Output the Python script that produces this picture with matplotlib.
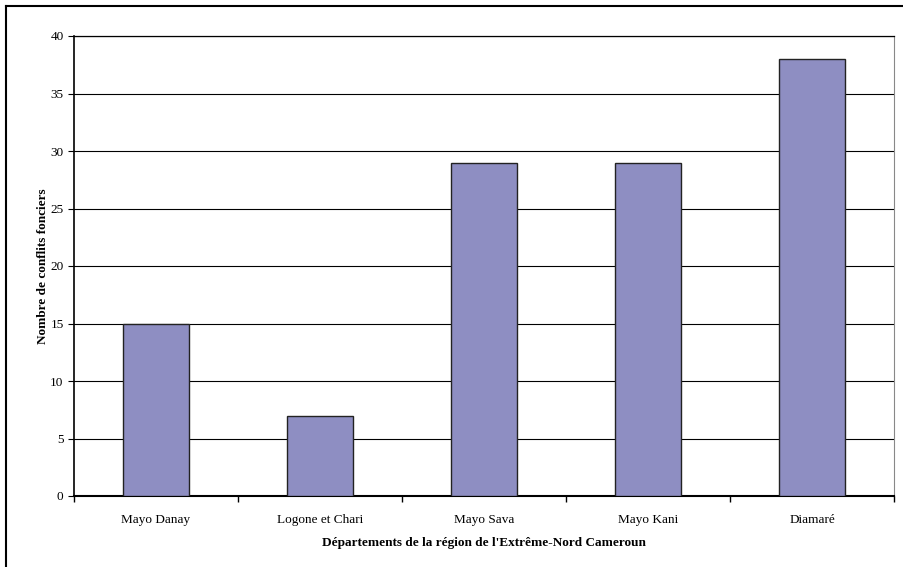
import matplotlib.pyplot as plt
from matplotlib.lines import Line2D
import numpy as np

departements = ["Mayo Danay", "Logone et Chari", "Mayo Sava", "Mayo Kani", "Diamaré"]
conflits = [15, 7, 29, 29, 38]
y_ticks = [0, 5, 10, 15, 20, 25, 30, 35, 40]

plt.rcParams["font.family"] = ["Liberation Serif", "DejaVu Serif"]

fig = plt.figure(figsize=(9.04, 5.67), dpi=100)
ax = fig.add_axes([74 / 904, 71 / 567, 820 / 904, 460 / 567])

x = np.arange(len(departements))
ax.bar(x, conflits, width=0.4, color="#8e8ec2", edgecolor="#222222", linewidth=1.0, zorder=3)

ax.set_xlim(-0.5, len(departements) - 0.5)
ax.set_ylim(0, 40)
ax.set_yticks(y_ticks)
ax.yaxis.grid(True, color="black", linewidth=0.8, zorder=0)

# categories centred, ticks on boundaries
ax.set_xticks(x)
ax.set_xticklabels(departements, fontsize=9.5)
ax.set_xticks(np.arange(-0.5, len(departements)), minor=True)
ax.tick_params(axis="x", which="major", length=0, pad=13)
ax.tick_params(axis="x", which="minor", length=4, direction="out", width=1)
ax.tick_params(axis="y", length=4, direction="out", labelsize=9.5, width=0.8)

ax.spines["top"].set_color("black")
ax.spines["top"].set_linewidth(0.9)
ax.spines["right"].set_color("#888888")
ax.spines["right"].set_linewidth(0.8)
ax.spines["left"].set_linewidth(1.2)
ax.spines["bottom"].set_linewidth(1.5)

ax.set_xlabel("Départements de la région de l'Extrême-Nord Cameroun", fontsize=9.5,
              fontweight="bold", labelpad=8)
ax.set_ylabel("Nombre de conflits fonciers", fontsize=9.5, fontweight="bold", labelpad=1)

# outer frame
fig.add_artist(Line2D([6 / 904, 6 / 904], [0, 1 - 6 / 567], transform=fig.transFigure,
                      color="black", linewidth=1.5))
fig.add_artist(Line2D([6 / 904, 1], [1 - 6 / 567, 1 - 6 / 567], transform=fig.transFigure,
                      color="black", linewidth=1.5))

fig.savefig("out.png", dpi=100)
